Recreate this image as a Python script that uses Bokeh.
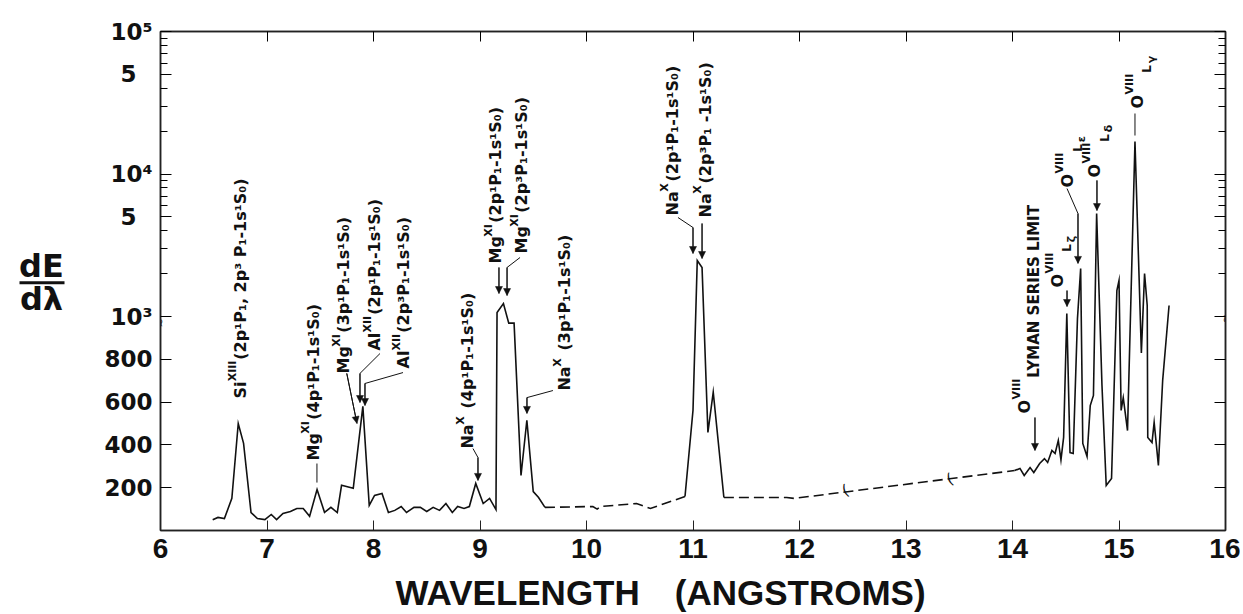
import math
import numpy as np
from bokeh.plotting import figure
from bokeh.layouts import row, column
from bokeh.models import (ColumnDataSource, Range1d, FixedTicker, LinearAxis,
                          CustomJSTransform, Arrow, NormalHead)
from bokeh.transform import transform
from bokeh.core.properties import value
from bokeh.embed import file_html
from bokeh.resources import INLINE

# ---------------- data (wavelength in Angstrom, dE/dlambda) ----------------
solid1_wl = [6.49, 6.54, 6.60, 6.67, 6.73, 6.78, 6.85, 6.91, 6.98, 7.04, 7.09, 7.15, 7.22,
             7.28, 7.34, 7.40, 7.47, 7.54, 7.60, 7.66, 7.70, 7.81, 7.90, 7.96, 8.01, 8.08,
             8.14, 8.20, 8.26, 8.31, 8.38, 8.44, 8.50, 8.56, 8.62, 8.68, 8.74, 8.79, 8.85,
             8.90, 8.96, 9.03, 9.09, 9.15, 9.16, 9.22, 9.27, 9.32, 9.385, 9.44, 9.50, 9.55, 9.61]
solid1_val = [50, 61, 56, 150, 500, 407, 84, 56, 51, 75, 51, 80, 89,
              103, 103, 66, 192, 85, 108, 84, 211, 197, 580, 117, 164, 173,
              84, 94, 112, 84, 108, 108, 89, 108, 94, 126, 84, 112, 103,
              112, 220, 126, 150, 98, 1067, 1234, 969, 969, 257, 515, 182, 154, 108]

dash1_wl = [9.61, 10.06, 10.10, 10.13, 10.47, 10.60, 10.925]
dash1_val = [108, 112, 100, 112, 126, 103, 159]

solid2_wl = [10.925, 11.00, 11.04, 11.085, 11.14, 11.19, 11.29]
solid2_val = [159, 562, 2472, 2207, 458, 646, 154]

dash2_wl = [11.29, 11.88, 11.95, 14.02]
dash2_val = [154, 154, 150, 280]

solid3_wl = [14.02, 14.07, 14.11, 14.165, 14.20, 14.255, 14.30, 14.33, 14.37, 14.40,
             14.43, 14.455, 14.48, 14.51, 14.54, 14.57, 14.61, 14.64, 14.66, 14.70,
             14.73, 14.76, 14.79, 14.84, 14.88, 14.93, 14.98, 15.00, 15.02, 15.04,
             15.08, 15.15, 15.21, 15.24, 15.265, 15.27, 15.31, 15.33, 15.37, 15.41, 15.47]
solid3_val = [280, 290, 257, 294, 271, 313, 336, 318, 374, 360,
              421, 330, 435, 1050, 364, 360, 990, 2170, 407, 346,
              584, 631, 5280, 680, 210, 243, 1522, 1790, 561, 621,
              467, 16900, 830, 2003, 1195, 435, 411, 505, 304, 701, 1194]

x_ticks = [6, 7, 8, 9, 10, 11, 12, 13, 14, 15, 16]
y_tick_vals = [200, 400, 600, 800, 1000, 5000, 10000, 50000, 100000]
y_tick_labels = ["200", "400", "600", "800", "10³", "5\u2007", "10⁴", "5\u2007", "10⁵"]
y_minor_vals = [2000, 3000, 4000, 6000, 7000, 8000, 9000,
                20000, 30000, 40000, 60000, 70000, 80000, 90000]

x_title = "WAVELENGTH\u2003(ANGSTROMS)"
y_title_num = "dE"
y_title_den = "dλ"

# line identifications
ann_elem = ["Si", "Mg", "Mg", "Al", "Al", "Na", "Mg", "Mg", "Na", "Na", "Na",
            "O", "O", "O", "O", "O"]
ann_ion = ["XIII", "XI", "XI", "XII", "XII", "X", "XI", "XI", "X", "X", "X",
           "VIII", "VIII", "VIII", "VIII", "VIII"]
ann_rest = ["(2p¹P₁, 2p³ P₁-1s¹S₀)", "(4p¹P₁-1s¹S₀)", "(3p¹P₁-1s¹S₀)", "(2p¹P₁-1s¹S₀)",
            "(2p³P₁-1s¹S₀)", "(4p¹P₁-1s¹S₀)", "(2p¹P₁-1s¹S₀)", "(2p³P₁-1s¹S₀)",
            "(3p¹P₁-1s¹S₀)", "(2p¹P₁-1s¹S₀)", "(2p³P₁ -1s¹S₀)",
            "LYMAN SERIES LIMIT", "L", "L", "L", "L"]
ann_sub = ["", "", "", "", "", "", "", "", "", "", "", "", "ζ", "ε", "δ", "γ"]
# layout of the identifications: text column (wavelength) and text start (dE/dlambda)
ann_x = [6.747, 7.432, 7.723, 8.014, 8.286, 8.887, 9.146, 9.394, 9.798, 10.803, 11.113,
         14.108, 14.418, 14.52, 14.77, 15.17]
ann_base = [617, 327, 734, 841, 757, 383, 2355, 2768, 654, 5113, 4951,
            547, 1598, 8040, 9450, 28820]
ann_gap = [0, 0, 0, 0, 0, 6, 0, 0, 6, 0, 0, 0, 0, 0, 0, 0]
# leader lines: (wavelength, dE/dlambda) points, last one is the arrow tip
leaders = [
    ([7.469, 7.469], [313, 224], False),
    ([7.749, 7.845], [734, 500], True),
    ([8.061, 7.873, 7.873], [827, 734, 598], True),
    ([8.277, 7.92, 7.92], [738, 687, 584], True),
    ([8.934, 8.981, 8.981], [383, 341, 234], True),
    ([9.178, 9.178], [2208, 1450], True),
    ([9.376, 9.254, 9.254], [2594, 2208, 1403], True),
    ([9.685, 9.441, 9.441], [654, 621, 547], True),
    ([10.859, 11.0, 11.0], [4951, 4211, 2768], True),
    ([11.085, 11.085], [4494, 2553], True),
    ([14.211, 14.211], [528, 374], True),
    ([14.512, 14.512], [1521, 1175], True),
    ([14.512, 14.615, 14.615], [7907, 5278, 2358], True),
    ([14.793, 14.793], [9016, 5540], True),
    ([15.15, 15.15], [26580, 18620], False),
]
break_wl = [12.43, 13.41]
break_val = [188, 240]

# ---------------- broken axis: linear 0..1000, log 1000..1e5 ----------------
R = 142.5 / 214.0


def axc(v):
    v = np.asarray(v, dtype=float)
    return np.where(v <= 1000, v / 1000.0, 1 + np.log10(np.maximum(v, 1) / 1000.0) * R)


yt = [round(float(axc(v)), 6) for v in y_tick_vals]
ym = [round(float(axc(v)), 6) for v in y_minor_vals]
U_TOP = yt[-1]

brk = CustomJSTransform(args=dict(R=R), func="""
    return x <= 1000 ? x / 1000 : 1 + Math.log10(x / 1000) * R
""", v_func="""
    const out = new Float64Array(xs.length)
    for (let i = 0; i < xs.length; i++) {
        const v = xs[i]
        out[i] = v <= 1000 ? v / 1000 : 1 + Math.log10(v / 1000) * R
    }
    return out
""")

INK = "#111111"
FRAME = "#222222"
TOTAL_W = 1240
LW = 80            # left panel holding the y title
PH = 570           # height of the plot row
XH = 44            # height of the x-title strip

p = figure(width=TOTAL_W - LW, height=PH, x_range=Range1d(6, 16), y_range=Range1d(0, U_TOP),
           output_backend="svg", toolbar_location=None,
           min_border_left=160 - LW, min_border_right=TOTAL_W - LW - 80 - 1065,
           min_border_top=31, min_border_bottom=PH - 530)
p.grid.visible = False
p.outline_line_color = FRAME
p.outline_line_width = 1.5

# axes
p.xaxis.ticker = FixedTicker(ticks=x_ticks)
p.xaxis.major_tick_in = 10
p.xaxis.major_tick_out = 0
p.xaxis.minor_tick_in = 0
p.xaxis.minor_tick_out = 0
p.xaxis.axis_line_width = 1.5
p.xaxis.axis_line_color = FRAME
p.xaxis.major_tick_line_color = FRAME
p.xaxis.major_label_text_font = "Liberation Sans"
p.xaxis.major_label_text_font_style = "bold"
p.xaxis.major_label_text_font_size = "28px"
p.xaxis.major_label_text_color = INK
p.xaxis.major_label_standoff = 8

yticker = FixedTicker(ticks=yt, minor_ticks=ym)
p.yaxis.ticker = yticker
p.yaxis.major_label_overrides = {t: lab for t, lab in zip(yt, y_tick_labels)}
p.yaxis.major_tick_in = 11
p.yaxis.major_tick_out = 0
p.yaxis.minor_tick_in = 7
p.yaxis.minor_tick_out = 0
p.yaxis.axis_line_width = 1.5
p.yaxis.axis_line_color = FRAME
p.yaxis.major_label_text_font = "DejaVu Sans"
p.yaxis.major_label_text_font_style = "bold"
p.yaxis.major_label_text_font_size = "23px"
p.yaxis.major_label_text_color = INK
p.yaxis.major_label_standoff = 8

right = LinearAxis(ticker=yticker, major_tick_in=11, major_tick_out=0, minor_tick_in=7,
                   minor_tick_out=0, major_label_text_font_size="0px", major_label_standoff=0,
                   axis_line_width=1.5, axis_line_color=FRAME)
right.major_label_overrides = {t: "" for t in yt}
p.add_layout(right, "right")
top = LinearAxis(ticker=FixedTicker(ticks=x_ticks), major_tick_in=10, major_tick_out=0,
                 minor_tick_in=0, minor_tick_out=0, major_label_text_font_size="0px",
                 major_label_standoff=0, axis_line_width=1.5, axis_line_color=FRAME)
top.major_label_overrides = {t: "" for t in x_ticks}
p.add_layout(top, "above")

# spectrum
for wl, val, dash in [(solid1_wl, solid1_val, "solid"), (dash1_wl, dash1_val, "10 5"),
                      (solid2_wl, solid2_val, "solid"), (dash2_wl, dash2_val, "10 5"),
                      (solid3_wl, solid3_val, "solid")]:
    src = ColumnDataSource(dict(wl=wl, val=val))
    p.line(x="wl", y=transform("val", brk), source=src, line_color=INK, line_width=1.6,
           line_dash=dash, line_join="miter")

# break marks on the dashed interpolation
p.text(x=break_wl, y=[float(u) for u in axc(break_val)], text=["(", "("], angle=0.35,
       text_align="center", text_baseline="middle", text_font_size="15px",
       text_font=value("DejaVu Sans"), text_color=INK)

# identifications: text pieces
CW = {" ": .348, "(": .457, ")": .457, ",": .38, "-": .415, "p": .716, "s": .595, "g": .716,
      "a": .675, "i": .343, "l": .343, "P": .733, "S": .72, "M": .995, "A": .774, "N": .837,
      "O": .85, "L": .637, "Y": .724, "E": .683, "R": .77, "I": .372, "T": .682, "V": .774,
      "X": .771, "¹": .438, "³": .438, "₁": .438, "₀": .438}


def tw(s, size):
    return sum(CW.get(c, 0.696) for c in s) * size


px, py, pt, pf, pxo, pyo = [], [], [], [], [], []
for i in range(len(ann_elem)):
    bx = ann_x[i]
    by = float(axc(ann_base[i]))
    is_o = ann_elem[i] == "O"
    off = 0.0
    pieces = [(ann_elem[i], 16, 0.0)]
    if is_o and ann_rest[i] == "L":
        pieces += [(ann_ion[i], 11, -8.0), (ann_rest[i], 12, 10.0), (ann_sub[i], 11, 14.0)]
    elif is_o:
        pieces += [(ann_ion[i], 11, -8.0), (ann_rest[i], 15, 10.0)]
    else:
        pieces += [(ann_ion[i], 11, -7.5), (ann_rest[i], 16, 0.0)]
    for k, (txt, size, perp) in enumerate(pieces):
        if not txt:
            continue
        px.append(bx)
        py.append(by)
        pt.append(txt)
        pf.append(f"{size}px")
        pxo.append(perp)
        pyo.append(-off)
        off += tw(txt, size) * 0.92 + (1.5 if k == 0 else 2.5)
        if k == 1:
            off += ann_gap[i]

ann_src = ColumnDataSource(dict(x=px, y=py, text=pt, fsize=pf, xo=pxo, yo=pyo))
p.text(x="x", y="y", text="text", angle=math.pi / 2, text_font_size="fsize",
       x_offset="xo", y_offset="yo", text_align="left", text_baseline="middle",
       text_font=value("DejaVu Sans"), text_font_style="bold", text_color=INK, source=ann_src)

# leader lines and arrow heads
lx = [l[0] for l in leaders]
ly = [[float(u) for u in axc(l[1])] for l in leaders]
p.multi_line(xs=lx, ys=ly, line_color=INK, line_width=1.0)
a_src = ColumnDataSource(dict(
    x0=[l[0][-2] for l in leaders if l[2]],
    y0=[float(axc(l[1][-2])) for l in leaders if l[2]],
    x1=[l[0][-1] for l in leaders if l[2]],
    y1=[float(axc(l[1][-1])) for l in leaders if l[2]]))
p.add_layout(Arrow(x_start="x0", y_start="y0", x_end="x1", y_end="y1", source=a_src,
                   line_color=INK, line_width=1.0,
                   end=NormalHead(size=7, fill_color=INK, line_color=INK, line_width=0.5)))

# axis break marks on the frame
p.text(x=[6.0, 16.0], y=[float(axc(1000)) - 0.03, float(axc(1000)) - 0.01], text=["≈", "≈"],
       angle=math.pi / 2, text_align="center", text_baseline="middle",
       text_font_size="11px", text_font=value("DejaVu Sans"), text_color=INK)

# y axis title (horizontal fraction) in a narrow panel on the left
lab = figure(width=LW, height=PH, x_range=Range1d(0, LW), y_range=Range1d(PH, 0),
             output_backend="svg", toolbar_location=None, x_axis_type=None, y_axis_type=None,
             min_border=0, min_border_left=0, min_border_right=0, min_border_top=0,
             min_border_bottom=0)
lab.grid.visible = False
lab.outline_line_color = None
lab.text(x=[41, 41], y=[268, 305], text=[y_title_num, y_title_den], text_align="center",
         text_baseline="middle", text_font=value("DejaVu Sans"), text_font_style="bold",
         text_font_size="32px", text_color=INK)
lab.segment(x0=[19], y0=[287], x1=[64], y1=[287], line_color=INK, line_width=3)

# x axis title strip below the plot
xl = figure(width=TOTAL_W, height=XH, x_range=Range1d(0, TOTAL_W), y_range=Range1d(XH, 0),
            output_backend="svg", toolbar_location=None, x_axis_type=None, y_axis_type=None,
            min_border=0, min_border_left=0, min_border_right=0, min_border_top=0,
            min_border_bottom=0)
xl.grid.visible = False
xl.outline_line_color = None
xl.text(x=[660], y=[22], text=[x_title], text_align="center", text_baseline="middle",
        text_font=value("Liberation Sans"), text_font_style="bold", text_font_size="35px",
        text_color=INK)

layout = column(row(lab, p), xl)
open("out.html", "w").write(file_html(layout, INLINE))
